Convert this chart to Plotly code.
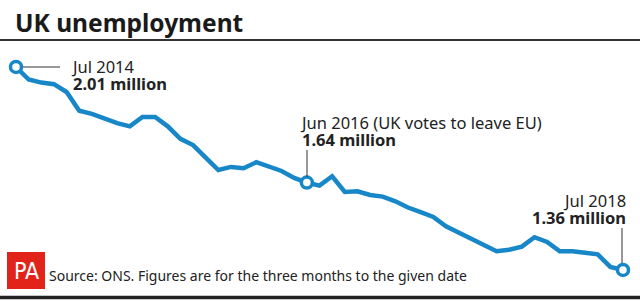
import plotly.graph_objects as go

W, H = 640, 301

months = ["Jul 2014","Aug 2014","Sep 2014","Oct 2014","Nov 2014","Dec 2014","Jan 2015","Feb 2015","Mar 2015","Apr 2015","May 2015","Jun 2015",
          "Jul 2015","Aug 2015","Sep 2015","Oct 2015","Nov 2015","Dec 2015","Jan 2016","Feb 2016","Mar 2016","Apr 2016","May 2016","Jun 2016",
          "Jul 2016","Aug 2016","Sep 2016","Oct 2016","Nov 2016","Dec 2016","Jan 2017","Feb 2017","Mar 2017","Apr 2017","May 2017","Jun 2017",
          "Jul 2017","Aug 2017","Sep 2017","Oct 2017","Nov 2017","Dec 2017","Jan 2018","Feb 2018","Mar 2018","Apr 2018","May 2018","Jun 2018","Jul 2018"]
unemployment = [2.01, 1.97, 1.96, 1.955, 1.93, 1.87, 1.86, 1.845, 1.83, 1.82, 1.85, 1.85,
                1.82, 1.78, 1.76, 1.72, 1.68, 1.69, 1.686, 1.705, 1.69, 1.677, 1.655, 1.64,
                1.63, 1.66, 1.61, 1.612, 1.60, 1.595, 1.58, 1.56, 1.545, 1.53, 1.50, 1.48,
                1.46, 1.44, 1.42, 1.425, 1.435, 1.465, 1.45, 1.42, 1.42, 1.415, 1.41, 1.37, 1.36]
highlight_idx = [0, 23, 48]
highlight_labels = ["Jul 2014", "Jun 2016 (UK votes to leave EU)", "Jul 2018"]
highlight_values = ["2.01 million", "1.64 million", "1.36 million"]

x = list(range(len(months)))
BLUE = "#1787c8"
FONT = "Noto Sans"

def px(p):
    return p / W

def py(p):
    return 1 - p / H

fig = go.Figure()
fig.add_trace(go.Scatter(x=x, y=unemployment, mode="lines",
                         line=dict(color=BLUE, width=4.5), hoverinfo="skip",
                         text=months))
fig.add_trace(go.Scatter(x=[x[i] for i in highlight_idx],
                         y=[unemployment[i] for i in highlight_idx],
                         mode="markers",
                         marker=dict(size=11, color="white", line=dict(color=BLUE, width=3.5)),
                         hoverinfo="skip"))

shapes = [
    dict(type="line", xref="paper", yref="paper", x0=0, x1=1, y0=py(40), y1=py(40),
         line=dict(color="#333333", width=2)),
    dict(type="line", xref="paper", yref="paper", x0=0, x1=1, y0=py(297.5), y1=py(297.5),
         line=dict(color="#222222", width=3.5)),
    dict(type="line", xref="paper", yref="paper", x0=px(23), x1=px(60), y0=py(67), y1=py(67),
         line=dict(color="#333333", width=1)),
    dict(type="line", xref="paper", yref="paper", x0=px(307), x1=px(307), y0=py(150), y1=py(177),
         line=dict(color="#333333", width=1)),
    dict(type="line", xref="paper", yref="paper", x0=px(622), x1=px(622), y0=py(228), y1=py(263),
         line=dict(color="#333333", width=1)),
    dict(type="rect", xref="paper", yref="paper", x0=px(7), x1=px(45), y0=py(289), y1=py(252),
         fillcolor="#e2231a", line=dict(width=0)),
]

def label(i, xp, yp, xanchor="left"):
    txt = (f'<span style="font-size:16.5px">{highlight_labels[i]}</span><br>'
           f'<span style="font-size:16.5px"><b>{highlight_values[i]}</b></span>')
    return dict(text=txt, xref="paper", yref="paper", x=px(xp), y=py(yp),
                xanchor=xanchor, yanchor="middle", align=xanchor, showarrow=False,
                font=dict(family=FONT, size=13, color="#222222"))

annotations = [
    dict(text="<b>UK unemployment</b>", xref="paper", yref="paper", x=px(13), y=py(22),
         xanchor="left", yanchor="middle", showarrow=False,
         font=dict(family=FONT, size=24.5, color="#1a1a1a")),
    label(0, 69, 75),
    label(1, 298, 131),
    label(2, 628, 209, xanchor="right"),
    dict(text="Source: ONS. Figures are for the three months to the given date",
         xref="paper", yref="paper", x=px(47), y=py(275), xanchor="left", yanchor="middle",
         showarrow=False, font=dict(family=FONT, size=14, color="#222222")),
    dict(text="PA", xref="paper", yref="paper", x=px(26), y=py(271),
         xanchor="center", yanchor="middle", showarrow=False,
         font=dict(family="Liberation Sans Narrow, DejaVu Sans Condensed, Roboto", size=23, color="white")),
]

fig.update_layout(
    width=W, height=H, margin=dict(l=0, r=0, t=0, b=0),
    paper_bgcolor="white", plot_bgcolor="white", showlegend=False,
    xaxis=dict(range=[-1.265, 49.345], visible=False, fixedrange=True),
    yaxis=dict(range=[1.2607, 2.2245], visible=False, fixedrange=True),
    shapes=shapes, annotations=annotations,
)

fig.write_html("out.html", config={"displayModeBar": False})
